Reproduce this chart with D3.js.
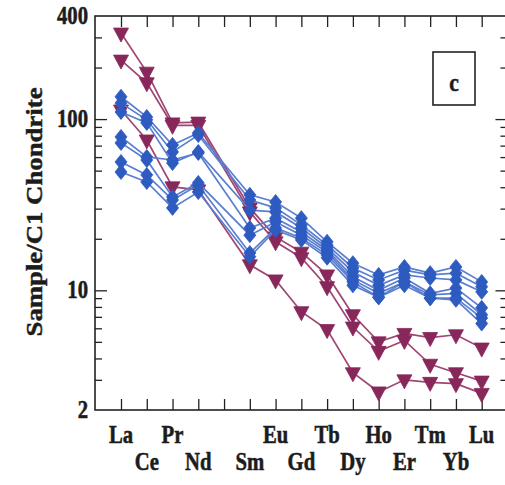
<!DOCTYPE html>
<html>
<head>
<meta charset="utf-8">
<script src="https://cdn.jsdelivr.net/npm/d3@7"></script>
<style>
  html, body { margin: 0; padding: 0; background: #fff; }
  svg { display: block; }
  text {
    font-family: "Liberation Serif", "Times New Roman", serif;
    font-weight: bold;
    fill: #1c1c1c;
    stroke: #1c1c1c;
    stroke-width: 0.5px;
  }
</style>
</head>
<body>
<svg id="chart" width="505" height="485"></svg>
<script>

// DATA
// ---------------------------------------------------------------------------

// Axis slots (Pm is an empty slot with a tick but no label).
var slots = ['La', 'Ce', 'Pr', 'Nd', 'Pm', 'Sm', 'Eu', 'Gd', 'Tb', 'Dy',
             'Ho', 'Er', 'Tm', 'Yb', 'Lu'];

// Elements that carry values.
var elements = ['La', 'Ce', 'Pr', 'Nd', 'Sm', 'Eu', 'Gd', 'Tb', 'Dy', 'Ho',
                'Er', 'Tm', 'Yb', 'Lu'];

var yLabels = [2, 10, 100, 400];
var yMajor = [10, 100];
var yMinor = [3, 4, 5, 6, 7, 8, 9, 20, 30, 40, 50, 60, 70, 80, 90, 200, 300];

// Blue diamonds.
var diamonds = [
  [135, 103, 70.6, 83, 36.1, 32.8, 26.4, 19.2, 14.4, 12.3, 13.7, 12.6, 13.7, 11.2],
  [124, 99, 64.3, 80.7, 33.7, 30.3, 24.1, 18.4, 13.5, 11.5, 13.1, 12.3, 12.6, 10.5],
  [110, 95, 55.4, 64.3, 29.4, 28.7, 23.1, 17.7, 12.8, 10.7, 12.3, 11.8, 11.5, 9.8],
  [78.7, 60.1, 57.7, 63.4, 23.1, 26.4, 21.9, 17.2, 12.0, 10.0, 11.8, 9.6, 10.3, 7.9],
  [72.6, 57.7, 35.1, 42.4, 21.0, 25.1, 21.0, 16.7, 11.5, 9.6, 11.2, 9.4, 9.6, 7.2],
  [56.2, 47.2, 33.7, 41.2, 16.5, 23.1, 20.2, 16.1, 11.2, 9.1, 11.2, 9.0, 9.0, 6.9],
  [49.1, 42.9, 30.3, 37.5, 15.7, 22.5, 19.7, 15.5, 10.7, 9.1, 10.7, 9.0, 8.8, 6.4]
];

// Maroon inverted triangles.
var triangles = [
  [318, 188, 95, 96, 30.3, 20.5, 16.7, 12.3, 7.2, 5.0, 5.6, 5.3, 5.5, 4.6],
  [221, 163, 92, 92, 28.7, 19.2, 15.5, 10.5, 6.1, 4.4, 5.1, 3.7, 3.3, 2.95],
  [113, 75.5, 40.2, 38.6, 14.1, 11.5, 7.5, 5.9, 3.3, 2.55, 3.0, 2.9, 2.85, 2.5]
];


(function() {

  // SCALES
  // -------------------------------------------------------------------------

  var svg = d3.select('#chart');

  var plotLeft = 95, plotTop = 16, plotBottom = 410;

  var x = d3.scalePoint().domain(slots).range([121, 481.7]);
  var plotRight = x('Lu') + x.step();

  var y = d3.scaleLog().domain([2, 400]).range([plotBottom, plotTop]);

  var blue = { line: '#5a7ed0', fill: '#2d5bc0' };
  var maroon = { line: '#a04574', fill: '#88275a' };


  // AXES
  // -------------------------------------------------------------------------

  /**
   * Draw inward ticks on one side of the frame.
   */
  function ticks(axis, tx, ty) {
    svg.append('g')
      .attr('transform', 'translate(' + tx + ',' + ty + ')')
      .call(axis)
      .call(function(g) {
        g.select('.domain').remove();
        g.selectAll('line').attr('stroke', '#222').attr('stroke-width', 1.3);
        g.selectAll('text').remove();
      });
  }

  ticks(d3.axisRight(y).tickValues(yMinor).tickSize(7), plotLeft, 0);
  ticks(d3.axisRight(y).tickValues(yMajor).tickSize(12), plotLeft, 0);
  ticks(d3.axisLeft(y).tickValues(yMinor).tickSize(7), plotRight, 0);
  ticks(d3.axisLeft(y).tickValues(yMajor).tickSize(12), plotRight, 0);
  ticks(d3.axisBottom(x).tickSize(11), 0, plotTop);
  ticks(d3.axisTop(x).tickSize(11), 0, plotBottom);

  // Frame.
  svg.append('rect')
    .attr('x', plotLeft).attr('y', plotTop)
    .attr('width', plotRight - plotLeft).attr('height', plotBottom - plotTop)
    .attr('fill', 'none').attr('stroke', '#222').attr('stroke-width', 1.6);

  // Y labels.
  svg.selectAll('.ylab').data(yLabels).enter().append('text')
    .attr('class', 'ylab')
    .attr('transform', function(d) {
      return 'translate(88,' + (y(d) + 8) + ') scale(0.9,1.05)';
    })
    .attr('text-anchor', 'end')
    .style('font-size', '23px')
    .text(function(d) { return d; });

  // Element labels in two staggered rows.
  svg.selectAll('.xlab').data(slots.filter(function(s) { return s != 'Pm'; }))
    .enter().append('text')
    .attr('class', 'xlab')
    .attr('transform', function(d) {
      var row = slots.indexOf(d) % 2 == 0 ? 443 : 470;
      return 'translate(' + x(d) + ',' + row + ') scale(0.9,1.05)';
    })
    .attr('text-anchor', 'middle')
    .style('font-size', '23px')
    .text(function(d) { return d; });

  // Y title.
  svg.append('text')
    .attr('transform', 'translate(42,212) rotate(-90) scale(1.03,0.9)')
    .attr('text-anchor', 'middle')
    .style('font-size', '26px')
    .text('Sample/C1 Chondrite');

  // Panel letter.
  svg.append('rect')
    .attr('x', 433).attr('y', 52).attr('width', 42).attr('height', 53)
    .attr('fill', '#fff').attr('stroke', '#222').attr('stroke-width', 1.6);

  svg.append('text')
    .attr('transform', 'translate(454,91) scale(0.9,1.05)')
    .attr('text-anchor', 'middle')
    .style('font-size', '24px')
    .text('c');


  // SERIES
  // -------------------------------------------------------------------------

  var line = d3.line()
    .x(function(d, i) { return x(elements[i]); })
    .y(function(d) { return y(d); });

  var triPath = 'M-7.5,-5L7.5,-5L0,9Z';
  var diaPath = 'M0,-7.5L6,0L0,7.5L-6,0Z';

  /**
   * Draw one group of series with lines and markers.
   */
  function series(data, colors, path) {

    var g = svg.append('g');

    g.selectAll('path.line').data(data).enter().append('path')
      .attr('class', 'line')
      .attr('d', line)
      .attr('fill', 'none')
      .attr('stroke', colors.line)
      .attr('stroke-width', 1.7);

    data.forEach(function(s) {
      g.selectAll(null).data(s).enter().append('path')
        .attr('d', path)
        .attr('transform', function(d, i) {
          return 'translate(' + x(elements[i]) + ',' + y(d) + ')';
        })
        .attr('fill', colors.fill)
        .attr('stroke', colors.fill)
        .attr('stroke-width', 0.8);
    });

  }

  series(triangles, maroon, triPath);
  series(diamonds, blue, diaPath);

})();

</script>
</body>
</html>
